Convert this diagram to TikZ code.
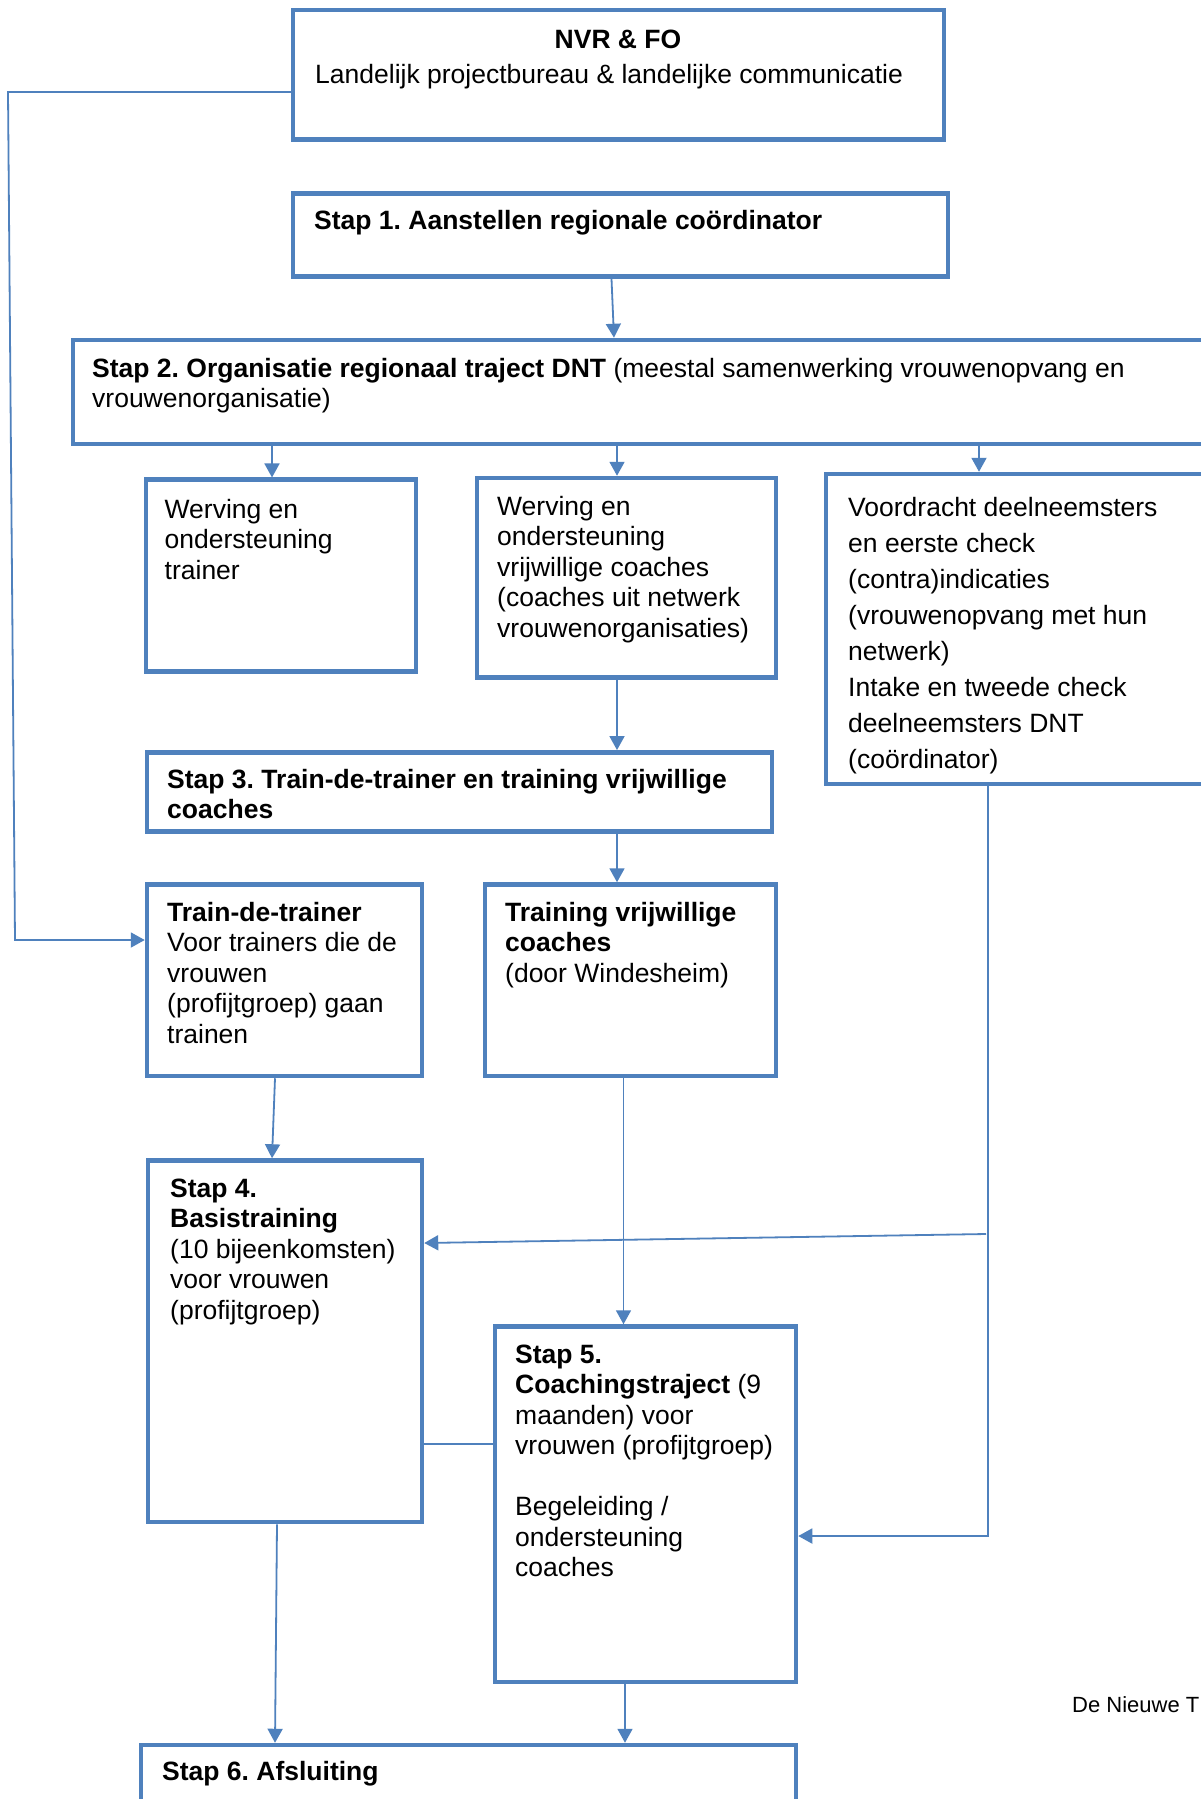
\documentclass[tikz,border=0pt]{standalone}
\usepackage{fontspec}
\setmainfont{Liberation Sans}
\usetikzlibrary{arrows.meta}
\definecolor{blu}{RGB}{79,129,189}
\frenchspacing
\begin{document}
\begin{tikzpicture}[x=1pt,y=-1pt,
  box/.style={draw=blu,line width=4.5pt,inner sep=0pt},
  conn/.style={draw=blu,line width=1.8pt},
  arr/.style={conn,-{Triangle[width=15pt,length=14pt]}},
  txt/.style={anchor=north west,inner sep=0pt,align=left,font=\fontsize{26.5}{30.5}\selectfont},
  lbl/.style={anchor=base west,inner sep=0pt,font=\fontsize{26.5}{30.5}\selectfont}]
\useasboundingbox (0,0) rectangle (1200,1799);
\fill[white] (0,0) rectangle (1200,1799);

% boxes
\node[box,minimum width=651pt,minimum height=129.5pt] (nvr) at (618.5,74.75) {};
\node[box,minimum width=655pt,minimum height=83pt] (s1) at (620.5,235) {};
\node[box,minimum width=1142pt,minimum height=104pt] (s2) at (644,392) {};
\node[box,minimum width=270pt,minimum height=191.8pt] (wt) at (281,575.6) {};
\node[box,minimum width=299pt,minimum height=199.5pt] (wc) at (626.5,577.75) {};
\node[box,minimum width=389pt,minimum height=310pt] (vd) at (1020.5,629) {};
\node[box,minimum width=625pt,minimum height=79.2pt] (s3) at (459.5,791.9) {};
\node[box,minimum width=275pt,minimum height=191.5pt] (td) at (284.5,980.25) {};
\node[box,minimum width=291pt,minimum height=191.5pt] (tc) at (630.5,980.25) {};
\node[box,minimum width=274pt,minimum height=361.5pt] (s4) at (285,1341.25) {};
\node[box,minimum width=301pt,minimum height=355.5pt] (s5) at (645.5,1504.25) {};
\node[box,minimum width=655pt,minimum height=115pt] (s6) at (468.5,1802.5) {};

% texts
\node[lbl,anchor=base] (tnvr) at (618,48) {\textbf{NVR \& FO}};
\node[lbl] (tland) at (315,83) {Landelijk projectbureau \& landelijke communicatie};
\node[lbl] (ts1) at (314,229) {\textbf{Stap 1. Aanstellen regionale coördinator}};
\node[txt] (ts2) at (92,355.65) {\strut\textbf{Stap 2. Organisatie regionaal traject DNT} (meestal samenwerking vrouwenopvang en\\vrouwenorganisatie)};
\node[txt] (twt) at (164.5,496.65) {\strut Werving en\\ondersteuning\\trainer};
\node[txt] (twc) at (497,493.65) {\strut Werving en\\ondersteuning\\vrijwillige coaches\\(coaches uit netwerk\\vrouwenorganisaties)};
\node[txt,font=\fontsize{26.5}{36}\selectfont] (tvd) at (848,490.8) {\strut Voordracht deelneemsters\\en eerste check\\(contra)indicaties\\(vrouwenopvang met hun\\netwerk)\\Intake en tweede check\\deelneemsters DNT\\(coördinator)};
\node[txt] (ts3) at (167,766.65) {\strut\textbf{Stap 3. Train-de-trainer en training vrijwillige}\\\textbf{coaches}};
\node[txt] (ttd) at (167,899.65) {\strut\textbf{Train-de-trainer}\\Voor trainers die de\\vrouwen\\(profijtgroep) gaan\\trainen};
\node[txt] (ttc) at (505,899.65) {\strut\textbf{Training vrijwillige}\\\textbf{coaches}\\(door Windesheim)};
\node[txt] (ts4) at (170,1175.65) {\strut\textbf{Stap 4.}\\\textbf{Basistraining}\\(10 bijeenkomsten)\\voor vrouwen\\(profijtgroep)};
\node[txt] (ts5) at (515,1341.65) {\strut\textbf{Stap 5.}\\\textbf{Coachingstraject} (9\\maanden) voor\\vrouwen (profijtgroep)\\[30.5pt]Begeleiding /\\ondersteuning\\coaches};
\node[lbl] (ts6) at (162,1780) {\textbf{Stap 6. Afsluiting}};
\node[lbl,font=\fontsize{22}{26}\selectfont] (tfoot) at (1072,1712) {De Nieuwe T};

% helper coordinates
\coordinate (k1) at (8,92);
\coordinate (k2) at (15,940);
\coordinate (k3) at (988,1536);
\coordinate (k4) at (986,1234);

% connectors
\draw[arr] ([yshift=-17.25pt]nvr.west) -- (k1) -- (k2) -- ([yshift=40.25pt]td.west);
\draw[arr] ([xshift=-9pt]s1.south) -- ([xshift=-30pt]s2.north);
\draw[arr] ([xshift=-372pt]s2.south) -- ([xshift=-9pt]wt.north);
\draw[arr] ([xshift=-27pt]s2.south) -- ([xshift=-9.5pt]wc.north);
\draw[arr] ([xshift=335pt]s2.south) -- ([xshift=-41.5pt]vd.north);
\draw[arr] ([xshift=-9.5pt]wc.south) -- ([xshift=157.5pt]s3.north);
\draw[arr] ([xshift=157.5pt]s3.south) -- ([xshift=-13.5pt]tc.north);
\draw[arr] ([xshift=-9.5pt]td.south) -- ([xshift=-13pt]s4.north);
\draw[arr] ([xshift=-7pt]tc.south) -- ([xshift=-22pt]s5.north);
\draw[arr] ([xshift=-32.5pt]vd.south) -- (k3) -- ([yshift=-31.75pt]s5.east);
\draw[arr] (k4) -- ([yshift=98.25pt]s4.east);
\draw[conn] ([yshift=-102.75pt]s4.east) -- ([yshift=60.25pt]s5.west);
\draw[arr] ([xshift=-8pt]s4.south) -- ([xshift=-193.5pt]s6.north);
\draw[arr] ([xshift=-20.5pt]s5.south) -- ([xshift=156.5pt]s6.north);
\end{tikzpicture}
\end{document}
